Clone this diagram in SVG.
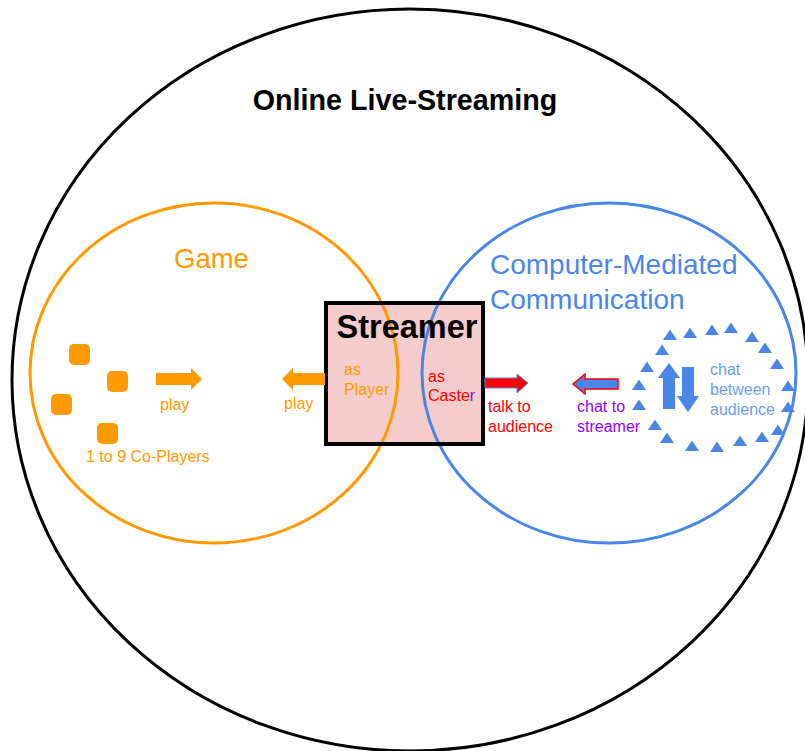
<svg xmlns="http://www.w3.org/2000/svg" width="805" height="751" viewBox="0 0 805 751">
<defs>
<style>
text{font-family:"Liberation Sans",Arial,sans-serif;}
.or{fill:#ff9900;}
.orT{fill:#ff9900;font-size:16px;}
.blT{fill:#4a86e8;font-size:28px;}
.tri{fill:#4a86e8;}
.ring{fill:none;stroke-width:3;}
</style>
<polygon id="tri" points="0,-5.5 7,5 -7,5"/>
</defs>
<rect width="805" height="751" fill="#ffffff"/>

<g id="online-live-streaming">
<ellipse cx="410" cy="380" rx="398" ry="371" class="ring" stroke="#000000"/>
<text x="405" y="110" text-anchor="middle" font-size="28.7" font-weight="bold" fill="#000000">Online Live-Streaming</text>
</g>

<g id="streamer-box-fill">
<rect x="326" y="303" width="157" height="141" fill="#f4cccc"/>
</g>

<g id="game">
<ellipse cx="214" cy="373" rx="184" ry="170" class="ring" stroke="#ff9900"/>
<text x="174" y="268" font-size="27.5" fill="#ff9900">Game</text>
</g>

<g id="cmc">
<ellipse cx="609" cy="373" rx="187" ry="170" class="ring" stroke="#4a86e8"/>
<text x="490" y="274" class="blT">Computer-Mediated</text>
<text x="490" y="309" class="blT">Communication</text>
</g>

<g id="streamer">
<rect x="326" y="303" width="157" height="141" fill="none" stroke="#000000" stroke-width="4"/>
<text x="407" y="338" text-anchor="middle" font-size="32.5" font-weight="bold" fill="#000000">Streamer</text>
<text x="344" y="375" class="orT">as</text>
<text x="344" y="395" class="orT">Player</text>
<text x="428" y="382" font-size="16" fill="#ff0000">as</text>
<text x="428" y="401" font-size="16" fill="#ff0000">Caste<tspan fill="#9900ff">r</tspan></text>
</g>

<g id="co-players">
<rect x="69" y="344" width="21" height="21" rx="5" class="or"/>
<rect x="107" y="371" width="21" height="21" rx="5" class="or"/>
<rect x="51" y="394" width="21" height="21" rx="5" class="or"/>
<rect x="97" y="423" width="21" height="21" rx="5" class="or"/>
<text x="86" y="462" class="orT">1 to 9 Co-Players</text>
</g>

<g id="audience">
<use href="#tri" x="670" y="335" class="tri"/>
<use href="#tri" x="690" y="333" class="tri"/>
<use href="#tri" x="712" y="330" class="tri"/>
<use href="#tri" x="731" y="328" class="tri"/>
<use href="#tri" x="752" y="337" class="tri"/>
<use href="#tri" x="765" y="348" class="tri"/>
<use href="#tri" x="777" y="364" class="tri"/>
<use href="#tri" x="788" y="386" class="tri"/>
<use href="#tri" x="788" y="407" class="tri"/>
<use href="#tri" x="778" y="430" class="tri"/>
<use href="#tri" x="762" y="437" class="tri"/>
<use href="#tri" x="740" y="441" class="tri"/>
<use href="#tri" x="717" y="447" class="tri"/>
<use href="#tri" x="692" y="446" class="tri"/>
<use href="#tri" x="667" y="438" class="tri"/>
<use href="#tri" x="655" y="425" class="tri"/>
<use href="#tri" x="639" y="405" class="tri"/>
<use href="#tri" x="639" y="385" class="tri"/>
<use href="#tri" x="647" y="367" class="tri"/>
<use href="#tri" x="662" y="350" class="tri"/>
<polygon points="669,363 680,378 675,378 675,409 663,409 663,378 658,378" fill="#4a86e8"/>
<polygon points="682,367 694,367 694,396 699,396 688,412 677,396 682,396" fill="#4a86e8"/>
<text x="710" y="375" font-size="16" fill="#6d9eeb">chat</text>
<text x="710" y="395" font-size="16" fill="#6d9eeb">between</text>
<text x="710" y="415" font-size="16" fill="#6d9eeb">audience</text>
</g>

<g id="connectors">
<polygon points="156,373 191,373 191,368 202,379 191,390 191,385 156,385" fill="#ff9900"/>
<text x="160" y="410" class="orT">play</text>
<polygon points="325,373 293,373 293,368 282,379 293,390 293,385 325,385" fill="#ff9900"/>
<text x="284" y="409" class="orT">play</text>
<polygon points="485,378 517,378 517,374 528,383 517,393 517,388 485,388" fill="#ff0000" stroke="#4a86e8" stroke-width="1"/>
<text x="488" y="412" font-size="16" fill="#ff0000">talk to</text>
<text x="488" y="432" font-size="16" fill="#ff0000">audience</text>
<polygon points="618,379 585,379 585,374 573,384 585,394 585,389 618,389" fill="#4a86e8" stroke="#ff0000" stroke-width="1.5"/>
<text x="577" y="412" font-size="16" fill="#9900ff">chat to</text>
<text x="577" y="432" font-size="16" fill="#9900ff">streamer</text>
</g>
</svg>
